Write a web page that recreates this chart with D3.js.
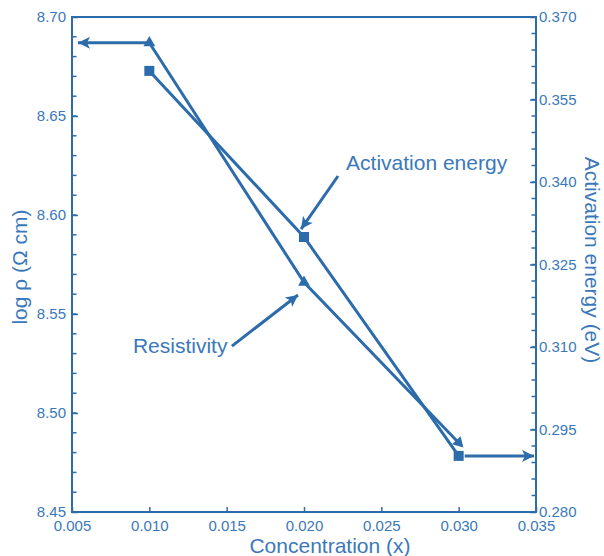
<!DOCTYPE html>
<html>
<head>
<meta charset="utf-8">
<script src="https://cdn.jsdelivr.net/npm/d3@7"></script>
<style>
  body { margin: 0; background: #fff; }
  svg { font-family: "Liberation Sans", Arial, sans-serif; }
</style>
</head>
<body>
<div id="chart"></div>
<script>
// data
var concentration = [0.010, 0.020, 0.030];
var logRho = [8.687, 8.566, 8.485];          // left axis, triangles
var activation = [0.3602, 0.3300, 0.2902];    // right axis, squares

var xTicks = [0.005, 0.010, 0.015, 0.020, 0.025, 0.030, 0.035];
var leftTicks = [8.45, 8.50, 8.55, 8.60, 8.65, 8.70];
var rightTicks = [0.280, 0.295, 0.310, 0.325, 0.340, 0.355, 0.370];

// annotation arrows, in data units (x, left-axis y)
var notes = [
  { text: "Activation energy", tx: 0.02272, ty: 8.6227, x1: 0.02220, y1: 8.6197, x2: 0.01981, y2: 8.5929 },
  { text: "Resistivity", tx: 0.00894, ty: 8.5303, x1: 0.01534, y1: 8.5338, x2: 0.01961, y2: 8.5596 }
];

var W = 604, H = 556;
var margin = { top: 17, right: 68, bottom: 44, left: 72 };
var lineColor = "#2d6cab";
var textColor = "#3b78ba";

var svg = d3.select("#chart").append("svg")
  .attr("width", W)
  .attr("height", H);

var x = d3.scaleLinear().domain([0.005, 0.035]).range([margin.left, W - margin.right]);
var yL = d3.scaleLinear().domain([8.45, 8.70]).range([H - margin.bottom, margin.top]);
var yR = d3.scaleLinear().domain([0.280, 0.370]).range([H - margin.bottom, margin.top]);

var defs = svg.append("defs");
defs.append("marker")
  .attr("id", "head")
  .attr("markerUnits", "userSpaceOnUse")
  .attr("markerWidth", 14).attr("markerHeight", 14)
  .attr("refX", 12).attr("refY", 6)
  .attr("orient", "auto")
  .append("path")
  .attr("d", "M0,0 L12,6 L0,12 L3,6 Z")
  .attr("fill", lineColor);

// minor ticks (drawn first, inward)
function minor(scale, step, lo, hi, side) {
  var vals = d3.range(Math.round((hi - lo) / step) + 1).map(function(i) { return lo + i * step; });
  svg.append("g").selectAll("line").data(vals).enter().append("line")
    .attr("x1", side == "left" ? margin.left : W - margin.right)
    .attr("x2", side == "left" ? margin.left + 4.5 : W - margin.right - 4.5)
    .attr("y1", function(d) { return scale(d); })
    .attr("y2", function(d) { return scale(d); })
    .attr("stroke", lineColor)
    .attr("stroke-width", 1.5);
}
minor(yL, 0.01, 8.45, 8.70, "left");
minor(yR, 0.003, 0.280, 0.370, "right");

var gx = svg.append("g")
  .attr("transform", "translate(0," + (H - margin.bottom) + ")")
  .call(d3.axisBottom(x).tickValues(xTicks).tickFormat(d3.format(".3f")).tickSize(-5).tickPadding(8));

var gl = svg.append("g")
  .attr("transform", "translate(" + margin.left + ",0)")
  .call(d3.axisLeft(yL).tickValues(leftTicks).tickFormat(d3.format(".2f")).tickSize(-6).tickPadding(6));

var gr = svg.append("g")
  .attr("transform", "translate(" + (W - margin.right) + ",0)")
  .call(d3.axisRight(yR).tickValues(rightTicks).tickFormat(d3.format(".3f")).tickSize(-6).tickPadding(3));

[gx, gl, gr].forEach(function(g) {
  g.select(".domain").remove();
  g.selectAll(".tick line").attr("stroke", lineColor).attr("stroke-width", 1.5);
  g.selectAll(".tick text")
    .attr("fill", textColor)
    .style("font-size", "15px")
    .style("font-family", "'Liberation Sans', Arial, sans-serif");
});

// frame
svg.append("rect")
  .attr("x", margin.left)
  .attr("y", margin.top)
  .attr("width", W - margin.left - margin.right)
  .attr("height", H - margin.top - margin.bottom)
  .attr("fill", "none")
  .attr("stroke", lineColor)
  .attr("stroke-width", 2);

// axis titles
svg.append("text")
  .attr("x", 330)
  .attr("y", H - 3)
  .attr("text-anchor", "middle")
  .attr("fill", textColor)
  .style("font-size", "21px")
  .text("Concentration (x)");

svg.append("text")
  .attr("transform", "translate(27," + 267 + ") rotate(-90)")
  .attr("text-anchor", "middle")
  .attr("fill", textColor)
  .style("font-size", "21px")
  .text("log \u03c1 (\u03a9 cm)");

svg.append("text")
  .attr("transform", "translate(585," + 260 + ") rotate(90)")
  .attr("text-anchor", "middle")
  .attr("fill", textColor)
  .style("font-size", "21px")
  .text("Activation energy (eV)");

// series lines
var rhoPts = concentration.map(function(c, i) { return [x(c), yL(logRho[i])]; });
var eaPts = concentration.map(function(c, i) { return [x(c), yR(activation[i])]; });

svg.append("path")
  .attr("d", d3.line()(rhoPts))
  .attr("fill", "none")
  .attr("stroke", lineColor)
  .attr("stroke-width", 3);

svg.append("path")
  .attr("d", d3.line()(eaPts))
  .attr("fill", "none")
  .attr("stroke", lineColor)
  .attr("stroke-width", 3);

// arrows pointing at the axes
svg.append("line")
  .attr("x1", rhoPts[0][0]).attr("y1", rhoPts[0][1])
  .attr("x2", x(0.005) + 6).attr("y2", rhoPts[0][1])
  .attr("stroke", lineColor).attr("stroke-width", 3)
  .attr("marker-end", "url(#head)");

svg.append("line")
  .attr("x1", eaPts[2][0] + 6).attr("y1", eaPts[2][1])
  .attr("x2", x(0.035) - 2).attr("y2", eaPts[2][1])
  .attr("stroke", lineColor).attr("stroke-width", 3)
  .attr("marker-end", "url(#head)");

// triangles (last one turned along the line like an arrow head)
var tri = d3.symbol().type(d3.symbolTriangle).size(60);
var lastAng = Math.atan2(rhoPts[2][1] - rhoPts[1][1], rhoPts[2][0] - rhoPts[1][0]) * 180 / Math.PI + 90;
svg.append("g").selectAll("path").data(rhoPts).enter().append("path")
  .attr("d", tri)
  .attr("transform", function(d, i) {
    var r = i == rhoPts.length - 1 ? lastAng : 0;
    return "translate(" + d[0] + "," + d[1] + ") rotate(" + r + ")";
  })
  .attr("fill", lineColor);

// squares
svg.append("g").selectAll("rect").data(eaPts).enter().append("rect")
  .attr("x", function(d) { return d[0] - 5; })
  .attr("y", function(d) { return d[1] - 5; })
  .attr("width", 10)
  .attr("height", 10)
  .attr("fill", lineColor);

// annotations
notes.forEach(function(n) {
  svg.append("text")
    .attr("x", x(n.tx))
    .attr("y", yL(n.ty))
    .attr("fill", textColor)
    .style("font-size", "21px")
    .text(n.text);
  svg.append("line")
    .attr("x1", x(n.x1)).attr("y1", yL(n.y1))
    .attr("x2", x(n.x2)).attr("y2", yL(n.y2))
    .attr("stroke", lineColor)
    .attr("stroke-width", 3)
    .attr("marker-end", "url(#head)");
});
</script>
</body>
</html>
